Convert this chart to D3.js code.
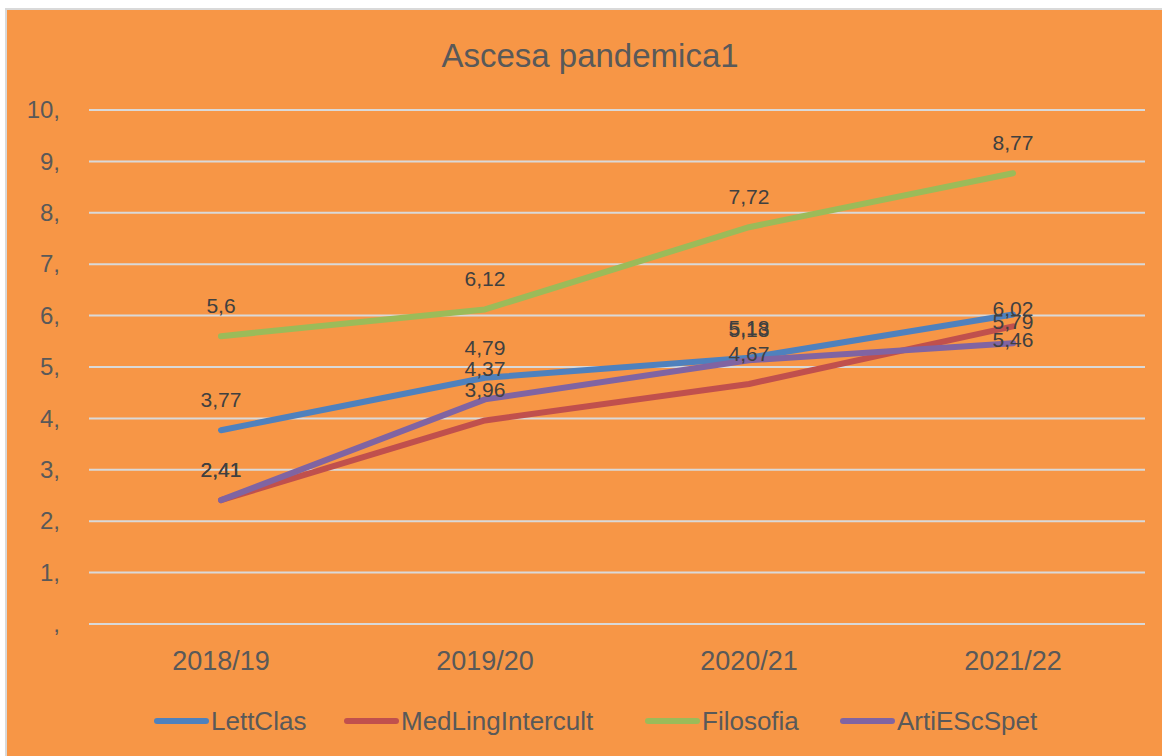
<!DOCTYPE html>
<html>
<head>
<meta charset="utf-8">
<script src="https://cdn.jsdelivr.net/npm/d3@7"></script>
<style>
  body { margin: 0; background: #fff; }
  svg { display: block; }
</style>
</head>
<body>
<svg id="canvas" width="1162" height="756"></svg>
<script>
// data
const years = ["2018/19", "2019/20", "2020/21", "2021/22"];
const seriesNames = ["LettClas", "MedLingIntercult", "Filosofia", "ArtiEScSpet"];
const lettClas = [3.77, 4.79, 5.18, 6.02];
const medLing = [2.41, 3.96, 4.67, 5.79];
const filosofia = [5.6, 6.12, 7.72, 8.77];
const artiEsc = [2.41, 4.37, 5.13, 5.46];
const yTicks = [0, 1, 2, 3, 4, 5, 6, 7, 8, 9, 10];
const colors = ["#4F81BD", "#C0504D", "#9BBB59", "#8064A2"];
// the last labels of three series were nudged down in the original
const lastLabelNudge = [24, 26, 0, 27];

const allSeries = [lettClas, medLing, filosofia, artiEsc].map((values, i) => ({
  name: seriesNames[i],
  color: colors[i],
  nudge: lastLabelNudge[i],
  values
}));

const svg = d3.select("#canvas");
const textColor = "#595959";
const narrow = "'Liberation Sans Narrow', 'Arial Narrow', sans-serif";

// chart frame
svg.append("rect")
  .attr("x", 6).attr("y", 9)
  .attr("width", 1162).attr("height", 760)
  .attr("fill", "#F79646")
  .attr("stroke", "#D9D9D9")
  .attr("stroke-width", 2);

const plot = { left: 89, right: 1145, top: 110, bottom: 624 };

const x = d3.scaleBand().domain(years).range([plot.left, plot.right]);
const y = d3.scaleLinear().domain([0, 10]).range([plot.bottom, plot.top]);

// title
svg.append("text")
  .attr("x", 590).attr("y", 67)
  .attr("text-anchor", "middle")
  .attr("font-family", narrow)
  .attr("font-size", 33)
  .attr("fill", textColor)
  .text("Ascesa pandemica1");

// gridlines
svg.append("g")
  .selectAll("line")
  .data(yTicks)
  .join("line")
  .attr("x1", plot.left).attr("x2", plot.right)
  .attr("y1", d => y(d)).attr("y2", d => y(d))
  .attr("stroke", "#D9D9D9")
  .attr("stroke-width", 2);

// y axis labels
const yAxis = svg.append("g")
  .attr("transform", `translate(${plot.left},0)`)
  .call(d3.axisLeft(y).tickValues(yTicks).tickSize(0).tickPadding(29)
    .tickFormat(d => (d === 0 ? "" : d) + ","));
yAxis.select(".domain").remove();
yAxis.selectAll("text")
  .attr("font-family", narrow)
  .attr("font-size", 24)
  .attr("fill", textColor);

// x axis labels
const xAxis = svg.append("g")
  .attr("transform", `translate(0,${plot.bottom})`)
  .call(d3.axisBottom(x).tickSize(0).tickPadding(27));
xAxis.select(".domain").remove();
xAxis.selectAll("text")
  .attr("font-family", narrow)
  .attr("font-size", 27)
  .attr("fill", textColor);

// lines
const line = d3.line()
  .x((d, i) => x(years[i]) + x.bandwidth() / 2)
  .y(d => y(d));

svg.append("g")
  .selectAll("path")
  .data(allSeries)
  .join("path")
  .attr("d", d => line(d.values))
  .attr("fill", "none")
  .attr("stroke", d => d.color)
  .attr("stroke-width", 6)
  .attr("stroke-linecap", "round")
  .attr("stroke-linejoin", "round");

// data labels
const labels = svg.append("g");
allSeries.forEach(s => {
  labels.selectAll(null)
    .data(s.values)
    .join("text")
    .attr("x", (d, i) => x(years[i]) + x.bandwidth() / 2)
    .attr("y", (d, i) => y(d) - 23 + (i === s.values.length - 1 ? s.nudge : 0))
    .attr("text-anchor", "middle")
    .attr("font-family", "'Liberation Sans', Arial, sans-serif")
    .attr("font-size", 21)
    .attr("fill", "#404040")
    .text(d => String(d).replace(".", ","));
});

// legend
const legendX = [154, 344, 645, 840];
const legend = svg.append("g")
  .selectAll("g")
  .data(allSeries)
  .join("g")
  .attr("transform", (d, i) => `translate(${legendX[i]},721)`);
legend.append("line")
  .attr("x1", 3).attr("x2", 52)
  .attr("stroke", d => d.color)
  .attr("stroke-width", 6)
  .attr("stroke-linecap", "round");
legend.append("text")
  .attr("x", 57).attr("y", 9)
  .attr("font-family", narrow)
  .attr("font-size", 26)
  .attr("fill", textColor)
  .text(d => d.name);
</script>
</body>
</html>
